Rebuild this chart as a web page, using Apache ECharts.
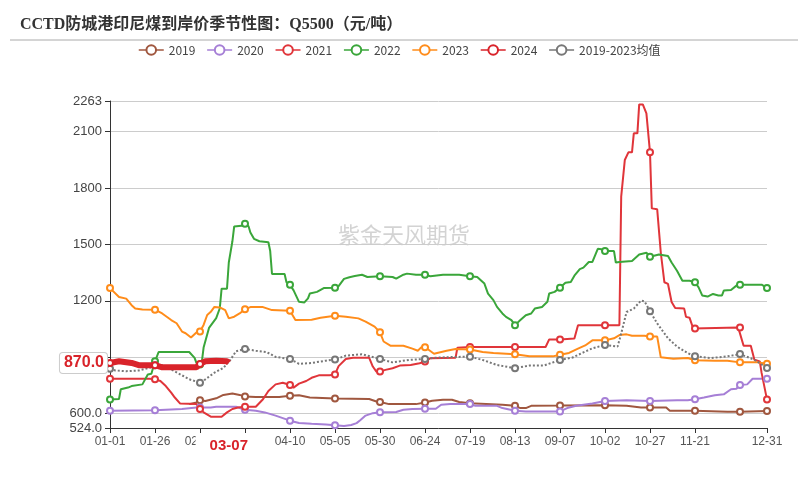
<!DOCTYPE html>
<html><head><meta charset="utf-8">
<script src="https://cdn.jsdelivr.net/npm/echarts@6/dist/echarts.min.js"></script>
<style>html,body{margin:0;padding:0;background:#fff}#c{width:808px;height:490px}</style>
</head><body><div id="c"></div>
<script>
// categories: days of a leap year (MM-DD)
const categories = [];
(function(){const ml=[31,29,31,30,31,30,31,31,30,31,30,31];for(let m=0;m<12;m++)for(let d=1;d<=ml[m];d++)categories.push(String(m+1).padStart(2,'0')+'-'+String(d).padStart(2,'0'));})();

const seriesNames = ['2019','2020','2021','2022','2023','2024','2019-2023均值'];
const y2019 = [[44,651],[48,660],[50,672],[53,668],[59,682],[63,700],[68,707],[72,700],[75,691],[81,689],[94,689],[100,695],[105,698],[111,686],[125,681],[144,678],[148,665],[150,662],[155,651],[170,651],[175,660],[179,669],[185,674],[190,674],[194,662],[200,656],[218,648],[225,642],[228,630],[231,630],[234,642],[250,643],[275,645],[287,642],[295,633],[300,633],[309,633],[311,616],[325,616],[343,610],[350,610],[365,614]];
const y2020 = [[0,616],[25,619],[40,625],[48,633],[50,633],[56,633],[59,637],[70,637],[75,621],[81,616],[86,607],[92,590],[100,563],[105,551],[112,546],[120,542],[125,538],[130,535],[134,540],[137,550],[139,565],[142,590],[146,603],[150,608],[159,609],[163,621],[168,625],[175,626],[181,626],[184,648],[189,651],[200,651],[203,642],[215,642],[218,630],[225,616],[231,612],[250,612],[254,630],[259,642],[261,645],[268,654],[275,668],[287,672],[300,668],[315,672],[321,672],[325,677],[330,686],[336,698],[341,703],[345,730],[348,733],[350,753],[354,756],[357,786],[365,786]];
const y2021 = [[0,786],[22,786],[25,783],[28,774],[31,747],[34,712],[36,686],[39,654],[48,651],[50,625],[52,607],[56,584],[62,584],[65,607],[68,625],[71,633],[75,637],[81,637],[85,677],[88,721],[92,756],[96,765],[100,753],[102,739],[105,760],[109,774],[112,791],[116,804],[122,805],[125,809],[127,853],[131,891],[135,897],[144,897],[146,851],[148,824],[150,824],[153,833],[157,842],[161,856],[167,859],[172,868],[175,877],[178,895],[192,898],[193,951],[200,955],[225,955],[242,955],[244,995],[250,995],[258,1000],[260,1071],[275,1071],[283,1071],[284,1754],[286,1949],[288,1990],[290,1990],[291,2091],[293,2091],[294,2245],[296,2245],[298,2197],[300,1990],[301,1692],[304,1687],[306,1456],[308,1299],[310,1290],[312,1194],[314,1162],[319,1159],[320,1115],[322,1110],[324,1053],[325,1053],[349,1059],[350,1059],[352,961],[356,961],[358,887],[361,878],[362,817],[365,675]];
const y2022 = [[0,675],[5,678],[6,730],[10,739],[12,747],[18,756],[21,809],[23,812],[25,879],[27,928],[44,928],[47,897],[48,870],[50,862],[51,874],[52,952],[55,1056],[59,1108],[61,1161],[62,1265],[65,1265],[66,1404],[68,1517],[69,1596],[73,1599],[75,1610],[77,1596],[78,1564],[79,1557],[80,1530],[83,1517],[88,1512],[89,1465],[90,1343],[97,1343],[98,1300],[100,1286],[102,1256],[105,1195],[108,1192],[110,1213],[111,1239],[115,1248],[119,1269],[125,1270],[127,1279],[130,1317],[133,1326],[136,1332],[140,1339],[143,1327],[150,1331],[157,1327],[159,1318],[163,1339],[165,1345],[170,1339],[175,1339],[178,1331],[185,1339],[194,1339],[200,1331],[204,1327],[205,1336],[208,1292],[210,1239],[213,1204],[215,1168],[218,1133],[220,1115],[223,1098],[225,1071],[228,1098],[231,1124],[234,1133],[236,1159],[240,1168],[243,1195],[244,1239],[247,1248],[250,1270],[253,1296],[256,1301],[258,1334],[261,1369],[263,1377],[266,1407],[268,1407],[271,1477],[273,1474],[275,1465],[280,1465],[281,1404],[283,1407],[290,1412],[294,1447],[298,1456],[300,1435],[305,1447],[310,1439],[312,1404],[315,1360],[318,1307],[322,1307],[325,1299],[327,1272],[329,1229],[332,1223],[335,1237],[338,1229],[340,1229],[341,1255],[345,1258],[348,1281],[350,1286],[362,1286],[365,1269]];
const y2023 = [[0,1268],[5,1221],[9,1212],[12,1177],[14,1160],[18,1154],[25,1153],[29,1133],[34,1098],[37,1081],[40,1037],[42,1028],[45,1005],[46,1002],[48,1032],[50,1037],[52,1072],[54,1125],[56,1142],[58,1168],[61,1165],[64,1151],[66,1107],[69,1116],[72,1133],[75,1156],[78,1167],[85,1167],[90,1151],[100,1147],[103,1098],[112,1100],[117,1110],[125,1121],[131,1116],[138,1107],[142,1090],[147,1063],[150,1033],[152,984],[156,961],[163,961],[168,946],[171,935],[173,954],[175,953],[177,940],[180,919],[187,935],[192,944],[200,942],[207,928],[213,923],[225,916],[233,905],[246,905],[250,914],[255,923],[260,946],[264,963],[268,990],[275,990],[280,1001],[283,1018],[287,1022],[290,1015],[297,1015],[300,1010],[304,1010],[306,900],[313,892],[321,896],[325,884],[336,882],[343,882],[350,873],[360,873],[365,866]];
const y2024 = [[0,870],[5,879],[12,870],[16,858],[25,858],[29,847],[48,847],[50,865],[53,879],[59,882],[65,879],[66,870]];
const yAvg = [[0,839],[3,830],[9,826],[16,830],[22,844],[25,858],[29,858],[35,830],[40,804],[44,783],[50,765],[53,783],[58,818],[63,844],[67,888],[70,932],[75,944],[81,935],[87,928],[92,902],[100,891],[105,865],[112,870],[120,882],[125,888],[131,909],[140,916],[150,891],[157,873],[166,886],[175,891],[181,898],[192,902],[200,903],[207,886],[215,859],[225,842],[233,856],[241,856],[250,886],[257,899],[263,926],[268,948],[275,966],[282,957],[284,1027],[287,1141],[291,1159],[295,1202],[297,1197],[300,1145],[304,1080],[310,1001],[315,957],[321,922],[325,905],[334,896],[343,905],[350,917],[358,887],[365,843]];

const yTickValues = [524, 600, 900, 1200, 1500, 1800, 2100, 2263];
const yTickLabels = {524:'524.0', 600:'600.0', 900:'900', 1200:'1200', 1500:'1500', 1800:'1800', 2100:'2100', 2263:'2263'};
const pointerDay = 66;      // 03-07
const pointerValue = 870.0;

const colors = ['#a0573f','#a67fd6','#e0353a','#3aa63a','#ff8c1a','#d9232a','#777777'];
const markerDays = new Set([0,25,50,75,100,125,150,175,200,225,250,275,300,325,350,365]);
const dataList = [y2019,y2020,y2021,y2022,y2023,y2024,yAvg];

const chart = echarts.init(document.getElementById('c'), null, {renderer:'canvas'});
const series = dataList.map((d,i)=>({
  name: seriesNames[i], type:'line', showAllSymbol:true,
  data: d.map(p => markerDays.has(p[0]) ? p : {value:p, symbol:'none'}),
  symbol: 'emptyCircle',
  symbolSize: 6,
  color: colors[i],
  lineStyle: {width: i===5 ? 6 : 2, type: i===6 ? 'dotted' : 'solid', color: colors[i]},
  itemStyle: {color: colors[i], borderWidth: 1.2},
  z: i===5 ? 3 : 2,
  animation:false
}));

chart.setOption({
  animation:false,
  title:{text:'CCTD防城港印尼煤到岸价季节性图：Q5500（元/吨）', left:15, top:12,
    textStyle:{fontFamily:"'Liberation Serif','Noto Sans CJK SC',serif", fontWeight:'bold', fontSize:16, color:'#333'}},
  legend:{top:39, left:133, itemGap:11, itemWidth:25, itemHeight:12,
    lineStyle:{width:1.5, type:'solid'},
    textStyle:{fontSize:12, color:'#444', fontFamily:"'Noto Sans CJK SC','Noto Sans',sans-serif"}, data:seriesNames},
  graphic:[
    {type:'line', shape:{x1:10,y1:40,x2:798,y2:40}, style:{stroke:'#aaa', lineWidth:1}},
    {type:'text', left:'center', top:224, style:{text:'紫金天风期货', fontSize:22, fill:'rgba(150,150,150,0.42)', fontFamily:"'Noto Sans CJK SC',sans-serif"}}
  ],
  grid:{left:110, right:41, top:101, bottom:62},
  xAxis:{type:'category', data:categories, boundaryGap:false,
    axisLine:{lineStyle:{color:'#333'}},
    axisTick:{interval:(i)=> (i%25===0 && i<=325) || i===365, lineStyle:{color:'#333'}},
    axisLabel:{interval:(i)=> (i%25===0 && i<=325) || i===365, color:'#555', fontSize:12, margin:8, showMaxLabel:true},
    axisPointer:{show:true, value:pointerDay, status:'show', triggerTooltip:false, lineStyle:{opacity:0},
      label:{show:true, color:'#d9232a', fontWeight:'bold', fontSize:15, backgroundColor:'#fff', padding:[4,14,2,14], margin:6}},
    splitLine:{show:false}},
  yAxis:{type:'value', min:524, max:2263,
    axisLine:{show:true, lineStyle:{color:'#333'}},
    axisTick:{show:true, customValues:yTickValues, lineStyle:{color:'#333'}},
    axisLabel:{customValues:yTickValues, formatter:v=>yTickLabels[v] || String(v), color:'#444', fontSize:13},
    splitLine:{show:true, lineStyle:{color:'#ccc'}},
    axisPointer:{show:true, value:pointerValue, status:'show', triggerTooltip:false, lineStyle:{opacity:0},
      label:{show:true, formatter:p=>Number(p.value).toFixed(1), color:'#d9232a', fontWeight:'bold', fontSize:16, backgroundColor:'#fff', borderColor:'#ccc', borderWidth:1, padding:[2,3,2,4]}}},
  series: series
});
</script></body></html>
